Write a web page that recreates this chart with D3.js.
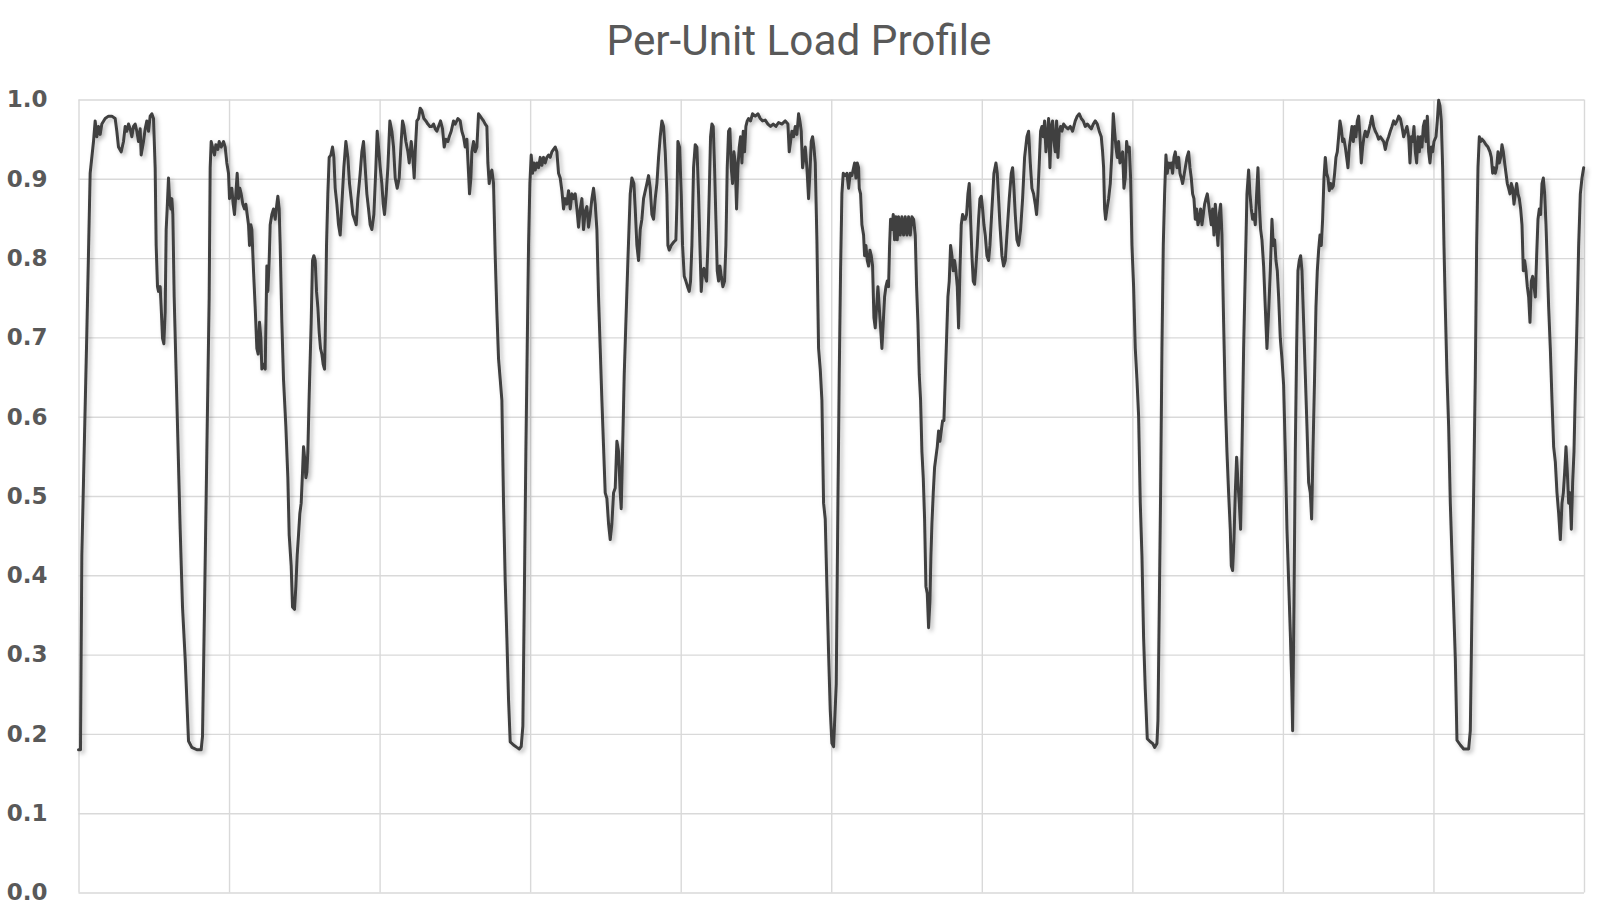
<!DOCTYPE html>
<html><head><meta charset="utf-8">
<script src="https://cdn.jsdelivr.net/npm/d3@7"></script>
<style>body{margin:0;background:#fff;} svg{display:block;}</style>
</head><body><svg id="chart" width="1602" height="918"></svg>
<script>
// ---------------- DATA ----------------
const chartTitle = "Per-Unit Load Profile";
const yTickValues = [0, 0.1, 0.2, 0.3, 0.4, 0.5, 0.6, 0.7, 0.8, 0.9, 1.0];
const xGridIntervals = 10;
const stepMax = 4516;
// [time step, per-unit load]
const samples = [
[0,0.18],[6,0.18],[10,0.425],[25,0.706],[35,0.907],[45,0.947],[50,0.973],[55,0.953],[60,0.966],[65,0.956],[70,0.969],[80,0.976],[90,0.979],[100,0.979],[110,0.976],[115,0.960],[120,0.940],[128,0.934],[135,0.947],[140,0.966],[145,0.960],[150,0.969],[155,0.963],[160,0.953],[165,0.966],[170,0.969],[175,0.960],[180,0.947],[185,0.963],[188,0.930],[195,0.947],[200,0.963],[205,0.973],[210,0.960],[215,0.979],[220,0.982],[225,0.976],[230,0.914],[233,0.816],[237,0.764],[240,0.758],[245,0.764],[248,0.738],[252,0.699],[256,0.692],[260,0.732],[263,0.836],[266,0.862],[270,0.901],[273,0.875],[277,0.862],[280,0.875],[283,0.855],[287,0.751],[295,0.621],[305,0.458],[312,0.360],[320,0.295],[330,0.191],[340,0.183],[355,0.180],[368,0.180],[372,0.197],[378,0.360],[385,0.556],[392,0.751],[395,0.914],[398,0.947],[402,0.940],[408,0.930],[412,0.943],[418,0.937],[422,0.947],[428,0.940],[435,0.947],[440,0.940],[445,0.920],[450,0.907],[453,0.875],[456,0.881],[460,0.888],[464,0.868],[468,0.855],[472,0.881],[476,0.907],[480,0.875],[484,0.888],[488,0.881],[493,0.868],[498,0.862],[502,0.868],[506,0.855],[510,0.842],[513,0.816],[517,0.842],[520,0.836],[525,0.784],[530,0.738],[535,0.686],[539,0.679],[543,0.719],[547,0.699],[550,0.660],[555,0.666],[560,0.660],
[565,0.790],[568,0.758],[572,0.797],[575,0.842],[580,0.855],[585,0.862],[590,0.849],[595,0.868],[598,0.878],[602,0.862],[605,0.816],[610,0.719],[615,0.647],[622,0.588],[628,0.523],[632,0.451],[638,0.412],[642,0.360],[648,0.357],[652,0.386],[656,0.425],[660,0.451],[664,0.478],[668,0.491],[672,0.530],[675,0.562],[678,0.549],[682,0.523],[685,0.530],[688,0.556],[692,0.627],[698,0.719],[702,0.797],[706,0.803],[710,0.797],[714,0.758],[718,0.738],[722,0.706],[726,0.686],[730,0.679],[734,0.666],[738,0.660],[740,0.699],[744,0.816],[748,0.881],[752,0.927],[757,0.930],[762,0.940],[766,0.927],[770,0.888],[775,0.868],[780,0.842],[785,0.829],[790,0.868],[796,0.914],[802,0.947],[808,0.927],[813,0.894],[818,0.875],[823,0.855],[828,0.849],[833,0.842],[838,0.875],[845,0.907],[850,0.934],[855,0.947],[860,0.914],[865,0.881],[870,0.862],[875,0.842],[880,0.836],[886,0.855],[892,0.914],[896,0.960],[900,0.940],[905,0.914],[910,0.894],[914,0.868],[918,0.855],[923,0.881],[928,0.914],[934,0.973],[940,0.960],[945,0.940],[950,0.901],[956,0.888],[962,0.901],[968,0.947],[972,0.973],[976,0.966],[982,0.947],[988,0.934],[992,0.920],[998,0.947],[1003,0.927],[1007,0.901],[1010,0.934],[1015,0.973],[1020,0.976],[1025,0.989],[1030,0.986],[1036,0.976],[1042,0.973],[1048,0.969],[1054,0.966],[1060,0.966],[1065,0.969],[1070,0.963],[1075,0.960],[1080,0.966],[1086,0.973],[1092,0.963],[1097,0.940],[1102,0.950],[1108,0.947],[1112,0.953],[1118,0.960],[1125,0.973],[1130,0.969],
[1138,0.976],[1145,0.973],[1150,0.960],[1155,0.953],[1160,0.940],[1165,0.950],[1170,0.907],[1173,0.881],[1177,0.901],[1180,0.934],[1185,0.947],[1190,0.934],[1195,0.940],[1200,0.982],[1205,0.979],[1210,0.976],[1215,0.973],[1220,0.969],[1225,0.966],[1228,0.920],[1232,0.894],[1236,0.907],[1240,0.911],[1245,0.894],[1250,0.803],[1255,0.732],[1260,0.673],[1265,0.647],[1270,0.621],[1275,0.491],[1280,0.393],[1285,0.321],[1290,0.243],[1295,0.190],[1305,0.186],[1315,0.183],[1322,0.181],[1328,0.184],[1333,0.210],[1337,0.360],[1342,0.556],[1346,0.686],[1350,0.816],[1354,0.894],[1358,0.930],[1362,0.907],[1366,0.920],[1370,0.911],[1375,0.920],[1380,0.914],[1385,0.927],[1390,0.917],[1395,0.927],[1400,0.920],[1405,0.927],[1410,0.930],[1415,0.927],[1420,0.934],[1425,0.937],[1430,0.940],[1435,0.934],[1440,0.907],[1445,0.901],[1450,0.885],[1455,0.862],[1460,0.875],[1465,0.868],[1470,0.885],[1475,0.862],[1480,0.881],[1485,0.875],[1490,0.881],[1495,0.862],[1500,0.839],[1505,0.862],[1510,0.875],[1515,0.836],[1520,0.859],[1525,0.865],[1530,0.839],[1535,0.855],[1540,0.875],[1545,0.888],[1550,0.868],[1555,0.836],[1560,0.751],[1565,0.686],[1570,0.621],[1575,0.562],[1580,0.504],[1585,0.497],[1590,0.465],[1595,0.445],[1600,0.465],[1605,0.504],[1610,0.510],[1615,0.569],[1620,0.556],[1625,0.504],[1628,0.484],[1632,0.556],[1637,0.653],[1642,0.719],[1648,0.797],[1655,0.881],[1660,0.901],[1666,0.894],[1670,0.862],[1675,0.816],[1680,0.797],[1685,0.836],[1690,0.849],[1695,0.875],
[1705,0.894],[1710,0.904],[1715,0.888],[1720,0.855],[1725,0.849],[1730,0.875],[1735,0.894],[1740,0.927],[1745,0.953],[1750,0.973],[1755,0.966],[1760,0.934],[1765,0.881],[1768,0.816],[1772,0.810],[1778,0.816],[1785,0.820],[1792,0.823],[1795,0.868],[1798,0.947],[1803,0.940],[1808,0.881],[1812,0.816],[1817,0.777],[1822,0.771],[1827,0.764],[1832,0.758],[1836,0.771],[1840,0.816],[1845,0.914],[1850,0.943],[1855,0.940],[1860,0.881],[1864,0.816],[1868,0.758],[1872,0.784],[1876,0.787],[1880,0.777],[1884,0.771],[1888,0.816],[1892,0.881],[1896,0.953],[1900,0.969],[1904,0.966],[1908,0.914],[1912,0.849],[1916,0.784],[1920,0.771],[1924,0.790],[1928,0.777],[1933,0.764],[1938,0.771],[1942,0.816],[1946,0.914],[1950,0.960],[1954,0.963],[1958,0.914],[1962,0.894],[1966,0.934],[1970,0.920],[1974,0.862],[1978,0.914],[1982,0.940],[1986,0.953],[1990,0.920],[1994,0.960],[1998,0.934],[2002,0.966],[2006,0.973],[2010,0.976],[2016,0.973],[2022,0.982],[2030,0.979],[2038,0.982],[2045,0.976],[2052,0.973],[2060,0.974],[2068,0.969],[2076,0.966],[2084,0.969],[2092,0.966],[2100,0.971],[2110,0.969],[2120,0.973],[2128,0.969],[2132,0.934],[2136,0.947],[2140,0.960],[2145,0.953],[2150,0.966],[2155,0.956],[2160,0.982],[2164,0.973],[2168,0.960],[2172,0.914],[2176,0.927],[2180,0.940],[2185,0.914],[2190,0.875],[2194,0.907],[2198,0.947],[2202,0.953],[2206,0.940],[2210,0.920],[2215,0.823],[2220,0.686],[2225,0.660],[2230,0.621],[2235,0.491],[2240,0.471],[2245,0.386],[2250,0.302],[2255,0.230],[2260,0.188],[2265,0.184],
[2273,0.263],[2278,0.491],[2282,0.653],[2286,0.784],[2290,0.881],[2294,0.907],[2300,0.904],[2305,0.907],[2310,0.888],[2315,0.907],[2320,0.904],[2325,0.914],[2328,0.920],[2332,0.901],[2336,0.920],[2340,0.914],[2342,0.888],[2346,0.881],[2350,0.842],[2355,0.829],[2358,0.803],[2362,0.816],[2366,0.797],[2370,0.790],[2374,0.810],[2378,0.803],[2382,0.790],[2386,0.725],[2390,0.712],[2394,0.738],[2398,0.764],[2402,0.738],[2406,0.712],[2410,0.686],[2414,0.719],[2418,0.751],[2422,0.764],[2426,0.771],[2430,0.764],[2433,0.816],[2436,0.849],[2440,0.836],[2444,0.855],[2448,0.823],[2452,0.852],[2456,0.823],[2460,0.852],[2465,0.829],[2470,0.852],[2475,0.829],[2480,0.852],[2485,0.829],[2490,0.852],[2495,0.829],[2500,0.852],[2505,0.849],[2510,0.829],[2514,0.764],[2518,0.719],[2522,0.653],[2526,0.621],[2530,0.556],[2534,0.523],[2538,0.471],[2542,0.386],[2546,0.377],[2550,0.334],[2554,0.367],[2557,0.425],[2560,0.465],[2564,0.504],[2568,0.536],[2572,0.549],[2576,0.562],[2580,0.582],[2584,0.569],[2588,0.582],[2592,0.595],[2596,0.595],[2600,0.647],[2604,0.699],[2608,0.751],[2612,0.771],[2616,0.816],[2620,0.803],[2624,0.784],[2628,0.797],[2632,0.784],[2636,0.764],[2640,0.712],[2644,0.784],[2648,0.842],[2652,0.855],[2656,0.849],[2660,0.849],[2664,0.855],[2668,0.881],[2672,0.894],[2676,0.849],[2680,0.803],[2684,0.771],[2688,0.767],[2692,0.790],[2696,0.816],[2700,0.849],[2704,0.875],[2708,0.878],[2712,0.862],[2716,0.842],[2720,0.829],[2725,0.803],[2730,0.797],[2734,0.816],[2740,0.862],[2746,0.907],[2752,0.920],[2756,0.907],[2760,0.875],[2764,0.842],[2770,0.803],[2775,0.790],[2780,0.797],[2786,0.836],[2792,0.875],[2798,0.907],[2802,0.914],[2806,0.888],[2810,0.855],[2815,0.823],[2820,0.816],[2826,0.836],[2832,0.875],[2838,0.927],
[2845,0.953],[2850,0.960],[2855,0.920],[2860,0.888],[2865,0.881],[2870,0.868],[2874,0.855],[2878,0.881],[2882,0.920],[2886,0.960],[2890,0.966],[2894,0.953],[2898,0.973],[2902,0.934],[2906,0.953],[2910,0.976],[2914,0.914],[2918,0.966],[2922,0.973],[2926,0.947],[2930,0.934],[2934,0.973],[2938,0.927],[2942,0.960],[2946,0.966],[2950,0.960],[2955,0.969],[2960,0.966],[2968,0.963],[2975,0.966],[2982,0.960],[2990,0.973],[2996,0.979],[3002,0.982],[3008,0.976],[3014,0.973],[3020,0.966],[3026,0.969],[3032,0.966],[3038,0.963],[3044,0.969],[3050,0.973],[3056,0.969],[3062,0.960],[3068,0.953],[3072,0.934],[3075,0.914],[3078,0.862],[3081,0.849],[3085,0.862],[3090,0.875],[3095,0.894],[3100,0.934],[3104,0.982],[3108,0.960],[3112,0.940],[3116,0.927],[3120,0.947],[3124,0.920],[3128,0.927],[3132,0.934],[3136,0.888],[3140,0.901],[3144,0.947],[3148,0.934],[3152,0.940],[3156,0.901],[3160,0.816],[3165,0.764],[3170,0.686],[3175,0.647],[3180,0.601],[3185,0.491],[3190,0.425],[3195,0.321],[3200,0.256],[3206,0.194],[3215,0.190],[3222,0.188],[3228,0.183],[3235,0.188],[3238,0.217],[3242,0.360],[3246,0.504],[3250,0.686],[3254,0.816],[3258,0.881],[3262,0.930],[3266,0.907],[3270,0.920],[3274,0.914],[3278,0.920],[3282,0.907],[3286,0.927],[3290,0.934],[3295,0.914],[3300,0.927],[3304,0.907],[3308,0.901],[3312,0.894],[3316,0.904],[3320,0.914],[3325,0.927],[3330,0.934],[3334,0.914],[3338,0.901],[3342,0.881],[3346,0.875],[3350,0.849],[3354,0.862],[3358,0.842],[3362,0.849],[3366,0.862],[3370,0.842],[3374,0.855],[3378,0.868],[3382,0.875],[3386,0.881],[3390,0.868],[3394,0.855],[3398,0.842],[3402,0.862],[3406,0.829],
[3410,0.868],[3414,0.842],[3418,0.816],[3422,0.855],[3426,0.868],[3430,0.829],[3435,0.719],[3440,0.621],[3445,0.556],[3450,0.504],[3455,0.458],[3458,0.412],[3462,0.406],[3466,0.445],[3470,0.504],[3474,0.549],[3478,0.517],[3482,0.491],[3486,0.458],[3490,0.556],[3495,0.686],[3500,0.784],[3505,0.881],[3510,0.911],[3514,0.881],[3518,0.862],[3522,0.849],[3526,0.855],[3530,0.842],[3534,0.881],[3538,0.914],[3542,0.868],[3546,0.836],[3550,0.823],[3555,0.790],[3560,0.738],[3565,0.686],[3570,0.732],[3575,0.784],[3580,0.849],[3584,0.816],[3588,0.823],[3592,0.797],[3596,0.784],[3600,0.751],[3605,0.699],[3610,0.673],[3615,0.640],[3620,0.556],[3625,0.458],[3630,0.393],[3635,0.328],[3639,0.269],[3642,0.204],[3646,0.360],[3650,0.556],[3654,0.686],[3658,0.784],[3662,0.797],[3666,0.803],[3670,0.784],[3675,0.719],[3680,0.653],[3685,0.588],[3690,0.517],[3695,0.504],[3699,0.471],[3703,0.556],[3708,0.653],[3712,0.738],[3716,0.784],[3720,0.810],[3724,0.829],[3728,0.816],[3732,0.849],[3736,0.901],[3740,0.927],[3744,0.907],[3748,0.901],[3752,0.885],[3756,0.894],[3760,0.888],[3764,0.891],[3768,0.907],[3772,0.927],[3776,0.934],[3780,0.953],[3784,0.973],[3788,0.963],[3792,0.947],[3796,0.950],[3800,0.940],[3804,0.927],[3808,0.914],[3812,0.940],[3816,0.953],[3820,0.966],[3824,0.947],[3828,0.966],[3832,0.953],[3836,0.973],[3840,0.979],[3844,0.953],[3848,0.920],[3852,0.940],[3856,0.953],[3860,0.960],[3865,0.953],[3870,0.960],[3875,0.969],[3880,0.979],[3885,0.966],[3890,0.960],[3895,0.956],[3900,0.950],[3905,0.953],[3910,0.950],[3915,0.947],[3920,0.937],[3925,0.947],[3930,0.953],[3935,0.960],[3940,0.966],[3945,0.973],[3950,0.969],[3955,0.973],[3960,0.979],[3965,0.976],[3970,0.966],[3975,0.953],
[3980,0.960],[3985,0.966],[3990,0.953],[3994,0.920],[3998,0.953],[4002,0.947],[4006,0.966],[4010,0.934],[4014,0.920],[4018,0.953],[4022,0.934],[4026,0.953],[4030,0.940],[4034,0.966],[4038,0.973],[4042,0.947],[4046,0.979],[4050,0.934],[4054,0.920],[4058,0.940],[4062,0.934],[4066,0.947],[4072,0.953],[4076,0.973],[4080,0.999],[4084,0.992],[4088,0.973],[4092,0.914],[4096,0.816],[4100,0.738],[4105,0.653],[4110,0.588],[4115,0.491],[4120,0.425],[4125,0.360],[4130,0.295],[4135,0.192],[4145,0.186],[4155,0.181],[4170,0.181],[4175,0.204],[4180,0.360],[4185,0.504],[4190,0.653],[4194,0.816],[4198,0.914],[4202,0.953],[4206,0.947],[4210,0.950],[4216,0.947],[4222,0.943],[4228,0.940],[4234,0.934],[4238,0.927],[4242,0.907],[4246,0.914],[4250,0.907],[4254,0.914],[4258,0.934],[4262,0.920],[4266,0.927],[4270,0.943],[4274,0.934],[4278,0.920],[4282,0.907],[4286,0.894],[4290,0.888],[4294,0.881],[4298,0.894],[4302,0.888],[4306,0.868],[4310,0.881],[4314,0.894],[4318,0.881],[4322,0.875],[4326,0.862],[4330,0.842],[4334,0.784],[4338,0.797],[4342,0.784],[4346,0.764],[4350,0.751],[4354,0.719],[4358,0.771],[4362,0.777],[4366,0.764],[4370,0.751],[4374,0.803],[4378,0.849],[4382,0.862],[4386,0.855],[4390,0.894],[4394,0.901],[4398,0.881],[4402,0.842],[4406,0.790],[4410,0.738],[4415,0.686],[4420,0.621],[4425,0.562],[4430,0.543],[4435,0.504],[4440,0.478],[4445,0.445],[4450,0.491],[4454,0.504],[4458,0.530],[4462,0.562],[4466,0.530],[4470,0.491],[4474,0.504],[4478,0.458],[4482,0.517],[4486,0.556],[4490,0.634],[4495,0.719],[4500,0.816],[4505,0.881],[4510,0.901],[4515,0.914]
];

// ---------------- CHART ----------------
const svg = d3.select("#chart");
const plot = {left: 78.5, right: 1584, top: 99.5, bottom: 892.5};

const x = d3.scaleLinear().domain([0, stepMax]).range([plot.left, plot.right]);
const y = d3.scaleLinear().domain([0, 1]).range([plot.bottom, plot.top]);

const defs = svg.append("defs");
const f = defs.append("filter").attr("id", "shadow")
  .attr("x", "-5%").attr("y", "-5%").attr("width", "110%").attr("height", "110%");
f.append("feDropShadow").attr("dx", 2.5).attr("dy", 2.5).attr("stdDeviation", 2)
  .attr("flood-color", "#000").attr("flood-opacity", 0.28);

// horizontal gridlines + y labels
const yAxis = svg.append("g")
  .attr("transform", `translate(${plot.left},0)`)
  .call(d3.axisLeft(y).tickValues(yTickValues)
    .tickSize(-(plot.right - plot.left)).tickPadding(31)
    .tickFormat(d3.format(".1f")));
yAxis.select(".domain").remove();
yAxis.selectAll("line").attr("stroke", "#d9d9d9").attr("stroke-width", 1.4);
yAxis.selectAll("text")
  .attr("font-family", "'DejaVu Sans', Verdana, sans-serif")
  .attr("font-weight", "bold").attr("font-size", 23)
  .attr("fill", "#595959");

// vertical gridlines
const xTicks = d3.range(0, xGridIntervals + 1).map(i => i * stepMax / xGridIntervals);
const xAxis = svg.append("g")
  .attr("transform", `translate(0,${plot.bottom})`)
  .call(d3.axisBottom(x).tickValues(xTicks)
    .tickSize(-(plot.bottom - plot.top)).tickFormat(""));
xAxis.select(".domain").remove();
xAxis.selectAll("line").attr("stroke", "#d9d9d9").attr("stroke-width", 1.4);

// line
const line = d3.line().x(d => x(d[0])).y(d => y(d[1]));
svg.append("path")
  .datum(samples)
  .attr("d", line)
  .attr("fill", "none")
  .attr("stroke", "#404040")
  .attr("stroke-width", 3)
  .attr("stroke-linejoin", "round")
  .attr("stroke-linecap", "round")
  .attr("filter", "url(#shadow)");

// title
const t = svg.append("text")
  .attr("x", 799).attr("y", 55)
  .attr("text-anchor", "middle")
  .attr("font-family", "Roboto, 'Open Sans', sans-serif")
  .attr("font-size", 40)
  .attr("fill", "#595959")
  .text(chartTitle);
const w = t.node().getComputedTextLength();
t.attr("font-size", 40 * 385 / w);
</script>
</body></html>
